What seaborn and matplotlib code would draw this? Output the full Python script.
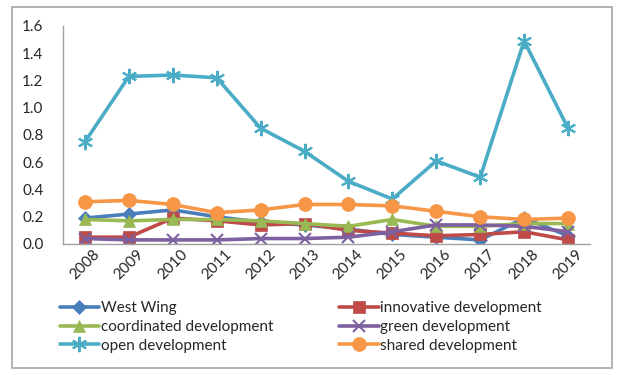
import pandas as pd
import seaborn as sns
import matplotlib.pyplot as plt
from matplotlib.patches import Rectangle

years = ["2008", "2009", "2010", "2011", "2012", "2013", "2014", "2015", "2016", "2017", "2018", "2019"]
west_wing = [0.19, 0.22, 0.25, 0.20, 0.16, 0.14, 0.11, 0.07, 0.05, 0.03, 0.19, 0.06]
innovative = [0.05, 0.05, 0.19, 0.17, 0.14, 0.15, 0.10, 0.08, 0.06, 0.07, 0.09, 0.03]
coordinated = [0.18, 0.17, 0.18, 0.18, 0.17, 0.15, 0.13, 0.18, 0.13, 0.13, 0.15, 0.15]
green = [0.04, 0.03, 0.03, 0.03, 0.04, 0.04, 0.05, 0.09, 0.14, 0.14, 0.13, 0.09]
open_dev = [0.75, 1.23, 1.24, 1.22, 0.85, 0.68, 0.46, 0.33, 0.61, 0.49, 1.49, 0.85]
shared = [0.31, 0.32, 0.29, 0.23, 0.25, 0.29, 0.29, 0.28, 0.24, 0.20, 0.18, 0.19]

series = ["West Wing", "innovative development", "coordinated development",
          "green development", "open development", "shared development"]
values = [west_wing, innovative, coordinated, green, open_dev, shared]
colors = ["#4A7EBB", "#BE4B48", "#98B954", "#7D60A0", "#4BACC6", "#F79646"]
markers = ["D", "s", "^", "x", (6, 2, 0), "o"]
msizes = [7, 9, 9, 9, 11, 10]

rows = []
for name, vals in zip(series, values):
    for i, v in enumerate(vals):
        rows.append({"pos": i, "year": years[i], "series": name, "value": v})
df = pd.DataFrame(rows)

sns.set_style("white")
plt.rcParams["font.family"] = ["Lato", "DejaVu Sans"]

fig = plt.figure(figsize=(6.21, 3.75), dpi=100)
ax = fig.add_axes([63 / 621, 1 - 244 / 375, 527 / 621, 218 / 375])

for name, c, m, ms in zip(series, colors, markers, msizes):
    sub = df[df["series"] == name]
    sns.lineplot(data=sub, x="pos", y="value", ax=ax, color=c, marker=m,
                 markersize=ms, linewidth=2.6, label=name,
                 markeredgecolor=c, markeredgewidth=1.5 if m in ("x", (6, 2, 0)) else 0.5)

ax.set_xlim(-0.5, 11.5)
ax.set_ylim(0, 1.6)
ax.set_yticks([0.0, 0.2, 0.4, 0.6, 0.8, 1.0, 1.2, 1.4, 1.6])
ax.set_yticklabels([f"{t:.1f}" for t in ax.get_yticks()], fontsize=11)
ax.set_xticks(range(len(years)))
ax.set_xticklabels(years, rotation=45, fontsize=11)
ax.tick_params(axis="y", pad=14, length=0)
ax.tick_params(axis="x", pad=2, length=0)
ax.set_xlabel("")
ax.set_ylabel("")
for s in ["top", "right"]:
    ax.spines[s].set_visible(False)
ax.spines["left"].set_color("#A0A0A0")
ax.spines["bottom"].set_color("#A0A0A0")
ax.spines["left"].set_linewidth(1)
ax.spines["bottom"].set_linewidth(1)

# legend filled row by row like the original
handles, labels = ax.get_legend_handles_labels()
order = [0, 2, 4, 1, 3, 5]
ax.legend([handles[i] for i in order], [labels[i] for i in order], ncol=2,
          loc="upper left", bbox_to_anchor=(-0.018, -0.235),
          frameon=False, fontsize=11, handlelength=2.6, handletextpad=0.1,
          columnspacing=4.3, labelspacing=0.3, borderaxespad=0)

fig.patches.append(Rectangle((12 / 621, 7 / 375), 600 / 621, 361 / 375,
                             transform=fig.transFigure, fill=False,
                             edgecolor="#A6A6A6", linewidth=1.2))

fig.savefig("out.png", dpi=100)
